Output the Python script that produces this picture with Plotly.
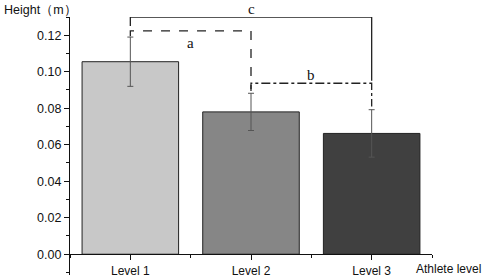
import plotly.graph_objects as go

categories = ["Level 1", "Level 2", "Level 3"]
heights = [0.1055, 0.0780, 0.0662]
errors = [0.0135, 0.0102, 0.0130]
bar_colors = ["#c8c8c8", "#868686", "#404040"]

# significance brackets: (x_start, x_end, level, left_end, right_end, label, label_x, label_y, dash)
brackets = [
    (1, 3, 0.1300, 0.1250, 0.0950, "c", 2.0, 0.1300, "solid"),
    (1, 2, 0.1224, 0.1195, 0.0905, "a", 1.5, 0.1160, "dash"),
    (2, 3, 0.0937, 0.0895, 0.0810, "b", 2.5, 0.0980, "dashdot"),
]

xpos = [1, 2, 3]

fig = go.Figure()
fig.add_trace(go.Bar(
    x=xpos, y=heights, width=0.8,
    marker=dict(color=bar_colors, line=dict(color="#222222", width=1)),
    error_y=dict(type="data", array=errors, visible=True, color="#555555",
                 thickness=1, width=3),
    showlegend=False,
))

for x0, x1, lvl, le, re, lab, lx, ly, dash in brackets:
    fig.add_trace(go.Scatter(
        x=[x0, x0, x1, x1], y=[le, lvl, lvl, re], mode="lines",
        line=dict(color="#222222", width=1.3, dash=dash),
        showlegend=False, hoverinfo="skip", cliponaxis=False,
    ))
    if lab == "c":
        fig.add_annotation(x=lx, y=ly - 0.0002, text=lab, showarrow=False, yanchor="bottom",
                           yshift=-2,
                           font=dict(family="Liberation Serif", size=15, color="#111111"),
                           xref="x", yref="y")
    else:
        fig.add_annotation(x=lx, y=ly, text=lab, showarrow=False,
                           font=dict(family="Liberation Serif", size=15, color="#111111"),
                           xref="x", yref="y")

ymin, ymax = -0.01138, 0.130
zero_frac = (0 - ymin) / (ymax - ymin)

fig.update_layout(
    width=484, height=278,
    margin=dict(l=70, r=52, t=17, b=0),
    plot_bgcolor="white", paper_bgcolor="white",
    font=dict(family="Liberation Sans", size=12, color="#111111"),
    xaxis=dict(
        range=[0.5, 3.5], tickvals=xpos, ticktext=categories,
        showline=True, linecolor="#111111", linewidth=1.2,
        ticks="outside", ticklen=5, tickcolor="#111111",
        showgrid=False, zeroline=False,
        anchor="free", position=zero_frac,
        minor=dict(tick0=0.5, dtick=0.5, ticks="outside", ticklen=3, tickcolor="#111111"),
        tickfont=dict(size=12),
    ),
    yaxis=dict(
        range=[ymin, ymax], tick0=0, dtick=0.02, tickformat=".2f",
        showline=True, linecolor="#111111", linewidth=1.2,
        ticks="outside", ticklen=5, tickcolor="#111111",
        showgrid=False, zeroline=False,
        minor=dict(dtick=0.01, ticks="outside", ticklen=3, tickcolor="#111111"),
        tickfont=dict(size=12.5),
    ),
)

fig.add_annotation(x=0, y=1, xref="paper", yref="paper", xshift=-68, yshift=7,
                   text="Height（m）", showarrow=False, xanchor="left", yanchor="middle",
                   font=dict(family="Liberation Sans", size=12.5))
fig.add_annotation(x=1, y=zero_frac, xref="paper", yref="paper", xshift=-18, yshift=-15,
                   text="Athlete level", showarrow=False, xanchor="left", yanchor="middle",
                   font=dict(family="Liberation Sans", size=12))

fig.write_html("out.html", config={"displayModeBar": False},
               post_script="document.body.style.margin='0px';document.body.style.overflow='hidden';")
